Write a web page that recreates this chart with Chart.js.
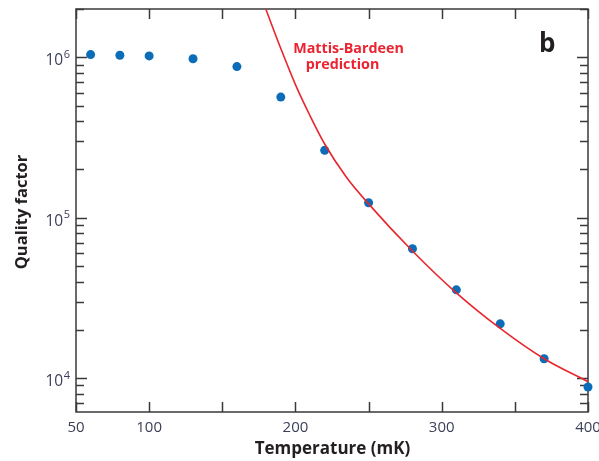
<!DOCTYPE html>
<html>
<head>
<meta charset="utf-8">
<script src="https://cdn.jsdelivr.net/npm/chart.js@4"></script>
<style>
  html, body { margin: 0; padding: 0; background: #fff; }
</style>
</head>
<body>
<canvas id="grafico" width="599" height="461"></canvas>
<script>
// ---- DADOS ----
const temperaturas = [60, 80, 100, 130, 160, 190, 220, 250, 280, 310, 340, 370, 400];
const fatorQ = [1.04e6, 1.03e6, 1.02e6, 9.8e5, 8.75e5, 5.65e5, 2.63e5, 1.24e5, 6.4e4, 3.55e4, 2.18e4, 1.32e4, 8.8e3];

// curva Mattis-Bardeen
const tempMB = [175, 180, 190, 200, 210, 220, 235, 250, 280, 310, 340, 370, 400];
const qMB = [2.6e6, 1.97e6, 1.135e6, 6.76e5, 4.32e5, 2.88e5, 1.78e5, 1.22e5, 6.2e4, 3.4e4, 2.04e4, 1.32e4, 9.5e3];

// ---- EIXOS ----
const xTicks = [50, 100, 150, 200, 250, 300, 350, 400];
const xTickLabels = [50, 100, 200, 300, 400];
const yDecadas = [1e3, 1e4, 1e5, 1e6];
const yDecadaLabels = ["4", "5", "6"];

const corEixo = "#3a3a3a";
const corTexto = "#3b3f58";
const fonte = "'Open Sans', 'Noto Sans', sans-serif";

// ---- MOLDURA E TICKS (para dentro) ----
const molduraPlugin = {
  id: "moldura",
  beforeDatasetsDraw(chart) {
    const { ctx, chartArea: a, scales } = chart;
    const x = scales.x, y = scales.y;
    ctx.save();
    ctx.strokeStyle = corEixo;
    ctx.lineWidth = 1.5;
    ctx.strokeRect(a.left, a.top, a.right - a.left, a.bottom - a.top);

    ctx.beginPath();
    xTicks.forEach(v => {
      const px = Math.round(x.getPixelForValue(v)) + 0.5;
      ctx.moveTo(px, a.bottom); ctx.lineTo(px, a.bottom - 10);
      ctx.moveTo(px, a.top); ctx.lineTo(px, a.top + 10);
    });
    yDecadas.forEach(d => {
      for (let m = 1; m <= 9; m++) {
        const v = d * m;
        if (v < y.min || v > y.max) continue;
        const py = Math.round(y.getPixelForValue(v)) + 0.5;
        const len = m === 1 ? 11 : 8;
        ctx.moveTo(a.left, py); ctx.lineTo(a.left + len, py);
        ctx.moveTo(a.right, py); ctx.lineTo(a.right - len, py);
      }
    });
    ctx.stroke();
    ctx.restore();
  },
  afterDraw(chart) {
    const { ctx, chartArea: a, scales } = chart;
    const x = scales.x, y = scales.y;
    ctx.save();

    // rótulos do eixo x
    ctx.fillStyle = corTexto;
    ctx.font = "15px " + fonte;
    ctx.textAlign = "center";
    ctx.textBaseline = "middle";
    xTickLabels.forEach(v => {
      ctx.fillText(String(v), x.getPixelForValue(v), 428);
    });

    // rótulos do eixo y: 10^n
    [1e4, 1e5, 1e6].forEach((v, i) => {
      const py = y.getPixelForValue(v);
      ctx.textBaseline = "alphabetic";
      ctx.font = "11px " + fonte;
      ctx.textAlign = "left";
      const supW = ctx.measureText(yDecadaLabels[i]).width;
      const supX = a.left - 6 - supW;
      ctx.fillText(yDecadaLabels[i], supX, py + 0.5);
      ctx.font = "15.5px " + fonte;
      ctx.textAlign = "right";
      ctx.fillText("10", supX - 0.5, py + 8);
    });

    // títulos
    ctx.fillStyle = "#231f20";
    ctx.font = "bold 17px " + fonte;
    ctx.textAlign = "center";
    ctx.textBaseline = "middle";
    ctx.fillText("Temperature (mK)", (a.left + a.right) / 2 + 0.5, 449);
    ctx.save();
    ctx.translate(22, 212);
    ctx.rotate(-Math.PI / 2);
    ctx.font = "bold 16.5px " + fonte;
    ctx.fillText("Quality factor", 0, 0);
    ctx.restore();

    // letra do painel
    ctx.font = "bold 26px " + fonte;
    ctx.textAlign = "left";
    ctx.textBaseline = "alphabetic";
    ctx.fillText("b", 539, 51.5);

    // anotação
    ctx.fillStyle = "#ec2330";
    ctx.font = "bold 14.3px " + fonte;
    ctx.textAlign = "center";
    ctx.fillText("Mattis-Bardeen", 348.5, 53);
    ctx.fillText("prediction", 342.5, 69);

    ctx.restore();
  }
};

// ---- GRÁFICO ----
const ctx = document.getElementById("grafico").getContext("2d");
const chart = new Chart(ctx, {
  type: "scatter",
  data: {
    datasets: [
      {
        label: "Mattis-Bardeen prediction",
        data: tempMB.map((t, i) => ({ x: t, y: qMB[i] })),
        showLine: true,
        borderColor: "#e8262e",
        borderWidth: 1.6,
        pointRadius: 0,
        fill: false,
        cubicInterpolationMode: "monotone"
      },
      {
        label: "Quality factor",
        data: temperaturas.map((t, i) => ({ x: t, y: fatorQ[i] })),
        showLine: false,
        pointRadius: 4.5,
        pointBackgroundColor: "#0b6cb7",
        pointBorderWidth: 0,
        clip: false
      }
    ]
  },
  options: {
    responsive: false,
    animation: false,
    devicePixelRatio: 1,
    layout: { padding: { left: 76, right: 11, top: 9, bottom: 49 } },
    plugins: {
      legend: { display: false },
      tooltip: { enabled: false }
    },
    scales: {
      x: { type: "linear", min: 50, max: 400, display: false },
      y: { type: "logarithmic", min: 6150, max: 2e6, display: false }
    }
  },
  plugins: [molduraPlugin]
});
</script>
</body>
</html>
